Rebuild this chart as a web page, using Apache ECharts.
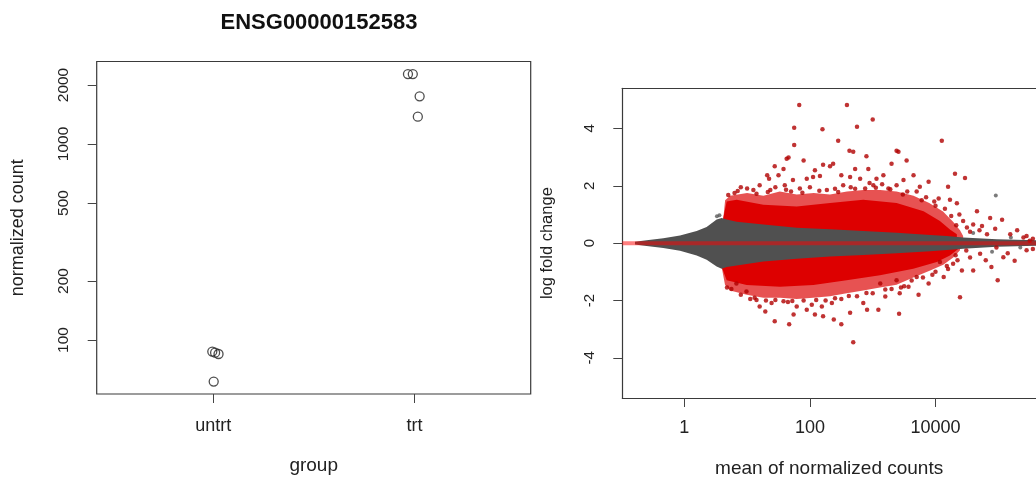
<!DOCTYPE html>
<html>
<head>
<meta charset="utf-8">
<title>ENSG00000152583</title>
<script src="https://cdn.jsdelivr.net/npm/echarts@6/dist/echarts.min.js"></script>
<style>
html, body { margin: 0; padding: 0; background: #fff; }
#main { width: 1036px; height: 483px; }
</style>
</head>
<body>
<div id="main"></div>
<script>
// left panel: plotCounts
var groupLabels = ['untrt', 'trt'];
var untrtX = [0.995, 1.009, 1.026, 1.002];
var untrtCounts = [87.2, 86.1, 84.8, 61.3];
var trtX = [1.967, 1.991, 2.025, 2.016];
var trtCounts = [2275, 2275, 1751, 1378];
var countTicks = [100, 200, 500, 1000, 2000];

// right panel: MA plot, x = log10(mean of normalized counts)
var meanTicks = [1, 100, 10000];
var lfcTicks = [-4, -2, 0, 2, 4];

var grayUpper = [[-0.785, 0.047], [-0.599, 0.104], [-0.334, 0.173], [-0.068, 0.264], [0.197, 0.424], [0.356, 0.561], [0.515, 0.824], [0.595, 0.881], [0.675, 0.824], [0.834, 0.744], [1.259, 0.653], [1.79, 0.538], [2.32, 0.481], [2.85, 0.424], [3.38, 0.367], [3.915, 0.287], [4.18, 0.253], [4.44, 0.196], [4.975, 0.139], [5.6, 0.104]];
var grayLower = [[-0.785, -0.045], [-0.599, -0.099], [-0.334, -0.17], [-0.068, -0.262], [0.197, -0.433], [0.356, -0.582], [0.515, -0.81], [0.595, -0.89], [0.675, -0.833], [0.834, -0.776], [1.259, -0.639], [1.79, -0.548], [2.32, -0.468], [2.85, -0.41], [3.38, -0.353], [3.915, -0.285], [4.18, -0.239], [4.44, -0.193], [4.975, -0.125], [5.6, -0.09]];

var redUpperFringe = [[0.595, 0], [0.622, 0.88], [0.65, 1.5], [0.73, 1.65], [1.0, 1.75], [1.26, 1.65], [1.52, 1.8], [1.79, 1.7], [2.06, 1.75], [2.32, 1.7], [2.59, 1.8], [2.85, 1.85], [3.12, 1.85], [3.38, 1.8], [3.65, 1.65], [3.9, 1.4], [4.12, 1.1], [4.28, 0.75], [4.39, 0.45], [4.44, 0.25], [4.44, 0]];
var redUpperSolid = [[0.595, 0], [0.62, 0.88], [0.675, 1.45], [0.834, 1.51], [1.259, 1.34], [1.79, 1.28], [2.32, 1.4], [2.85, 1.51], [3.38, 1.4], [3.81, 1.11], [4.07, 0.77], [4.23, 0.48], [4.34, 0.31], [4.34, 0]];
var redLowerFringe = [[0.595, 0], [0.595, -0.83], [0.648, -1.45], [0.728, -1.65], [0.993, -1.8], [1.259, -1.9], [1.524, -1.9], [1.79, -1.95], [2.055, -1.9], [2.32, -1.85], [2.585, -1.75], [2.85, -1.65], [3.116, -1.55], [3.38, -1.45], [3.646, -1.2], [3.915, -0.95], [4.124, -0.75], [4.283, -0.5], [4.39, -0.25], [4.39, 0]];
var redLowerSolid = [[0.595, 0], [0.595, -0.83], [0.675, -1.29], [0.993, -1.46], [1.524, -1.52], [2.055, -1.46], [2.585, -1.29], [3.116, -1.12], [3.646, -0.89], [4.02, -0.66], [4.23, -0.43], [4.36, -0.2], [4.36, 0]];

var sigUp = [[1.83, 4.82], [2.59, 4.82], [3.0, 4.31], [1.75, 4.02], [2.2, 3.97], [2.75, 4.06], [1.75, 3.42], [2.45, 3.57], [4.1, 3.57], [2.63, 3.22], [2.69, 3.19], [3.38, 3.22], [3.41, 3.19], [2.9, 3.03], [1.66, 2.99], [1.63, 2.94], [1.9, 2.88], [3.3, 2.77], [3.54, 2.88], [1.44, 2.68], [1.58, 2.59], [2.21, 2.73], [2.32, 2.68], [2.37, 2.77], [2.08, 2.54], [2.72, 2.59], [2.93, 2.59], [4.31, 2.42], [4.47, 2.27], [1.32, 2.37], [1.35, 2.25], [1.5, 2.37], [1.73, 2.2], [1.95, 2.25], [2.05, 2.31], [2.16, 2.34], [2.5, 2.37], [2.64, 2.31], [2.8, 2.25], [3.06, 2.25], [3.17, 2.37], [3.65, 2.37], [3.49, 2.2], [3.89, 2.14], [4.2, 1.97], [3.75, 1.97], [3.38, 2.02], [3.25, 1.91], [3.7, 1.8], [1.0, 1.91], [1.2, 2.02], [1.37, 1.85], [1.6, 2.02], [1.84, 1.91], [2.27, 1.85], [2.53, 2.02], [2.88, 1.91], [3.01, 2.02], [4.05, 1.56], [4.23, 1.51], [4.34, 1.39], [4.66, 1.11], [4.6, 0.65], [4.74, 0.6], [4.87, 0.88], [5.06, 0.82], [4.44, 0.77], [4.82, 0.31], [5.19, 0.31], [5.4, 0.2], [5.5, 0.08],
    [0.8, 1.75], [0.9, 1.95], [1.1, 1.85], [1.45, 1.95], [1.7, 1.8], [2.0, 1.95], [2.4, 1.9], [2.65, 1.95], [2.95, 2.1], [3.15, 2.05], [3.55, 1.8], [3.85, 1.6], [4.0, 1.3], [4.15, 1.2], [4.38, 1.0], [4.5, 0.55], [4.55, 0.4], [4.7, 0.45], [4.95, 0.5], [5.3, 0.45], [5.45, 0.25], [5.55, 0.15],
    [0.7, 1.68], [0.85, 1.82], [1.15, 1.72], [1.33, 1.78], [1.62, 1.86], [1.88, 1.76], [2.15, 1.83], [2.45, 1.78], [2.72, 1.9], [3.05, 1.93], [3.28, 1.88], [3.48, 1.7], [3.78, 1.5], [3.98, 1.45], [4.25, 0.95], [4.33, 0.62]];
var sigDown = [[2.69, -3.46], [1.44, -2.72], [1.67, -2.83], [2.38, -2.66], [2.5, -2.83], [3.42, -2.46], [2.91, -2.32], [1.29, -2.38], [1.74, -2.49], [1.95, -2.32], [2.08, -2.49], [2.21, -2.55], [2.64, -2.43], [3.09, -2.32], [4.39, -1.89], [4.99, -1.29], [3.73, -1.8], [3.43, -1.75], [1.15, -1.98], [1.2, -2.21], [1.39, -2.09], [1.58, -2.03], [1.79, -2.21], [2.03, -2.15], [2.19, -2.21], [2.35, -2.09], [2.85, -2.09], [3.2, -1.86], [3.57, -1.52], [3.89, -1.41], [4.13, -1.18], [4.6, -0.95], [4.42, -0.95], [4.89, -0.83], [5.26, -0.61], [5.08, -0.49], [4.71, -0.37], [4.28, -0.72], [4.07, -0.66], [3.7, -1.18], [3.38, -1.29], [3.12, -1.41], [0.99, -1.69], [0.83, -1.41], [4.49, -0.26], [4.97, -0.15],
    [0.75, -1.6], [0.9, -1.8], [1.05, -1.95], [1.3, -2.0], [1.65, -2.05], [1.9, -2.0], [2.25, -2.0], [2.5, -1.95], [2.75, -1.85], [3.0, -1.75], [3.3, -1.6], [3.5, -1.5], [3.8, -1.2], [4.0, -1.0], [4.2, -0.9], [4.35, -0.6], [4.55, -0.5], [4.8, -0.6], [5.15, -0.35], [5.45, -0.25], [5.55, -0.2],
    [0.68, -1.55], [1.12, -1.9], [1.45, -1.98], [1.72, -2.02], [2.1, -1.98], [2.4, -1.92], [2.62, -1.84], [2.9, -1.74], [3.2, -1.62], [3.45, -1.55], [3.62, -1.3], [3.95, -1.1], [4.18, -0.8], [4.32, -0.42]];
var nonSig = [[4.96, 1.66], [0.52, 0.94], [0.56, 0.97], [4.6, 0.35], [4.9, -0.3], [5.2, 0.2], [5.35, -0.15]];

var font = '"Liberation Sans", Arial, Helvetica, sans-serif';
var textColor = '#222';
var frameColor = '#3a3a3a';
var maMin = -0.987;
var maMax = 5.6;

function pairs(xs, ys) {
    var out = [];
    for (var i = 0; i < xs.length; i++) {
        out.push([xs[i], Math.log10(ys[i])]);
    }
    return out;
}

function polygonSeries(points, fill) {
    return {
        type: 'custom',
        xAxisIndex: 1,
        yAxisIndex: 1,
        clip: true,
        silent: true,
        data: [[0, 0]],
        renderItem: function(params, api) {
            var pts = [];
            for (var i = 0; i < points.length; i++) {
                pts.push(api.coord(points[i]));
            }
            return {
                type: 'polygon',
                shape: { points: pts },
                style: { fill: fill }
            };
        }
    };
}

var grayBand = grayUpper.concat(grayLower.slice().reverse());

var chart = echarts.init(document.getElementById('main'));

var tickStyle = { show: true, inside: false, length: 9, lineStyle: { color: '#444', width: 1 } };
var frameLine = { show: true, onZero: false, lineStyle: { color: frameColor, width: 1.2 } };

var option = {
    backgroundColor: '#fff',
    animation: false,
    title: {
        text: 'ENSG00000152583',
        left: 314,
        top: 7,
        textAlign: 'center',
        textStyle: { fontFamily: font, fontSize: 22, fontWeight: 'bold', color: '#111' }
    },
    grid: [
        { left: 96.7, top: 61.5, width: 434, height: 332.5, show: true, borderColor: frameColor, borderWidth: 1.2, backgroundColor: 'transparent' },
        { left: 622.3, top: 88.3, width: 413.7, height: 314.5, show: false }
    ],
    xAxis: [
        {
            gridIndex: 0,
            type: 'value',
            min: 0.4208,
            max: 2.5767,
            name: 'group',
            nameLocation: 'middle',
            nameGap: 62,
            nameTextStyle: { fontFamily: font, fontSize: 19, color: textColor },
            axisLine: { show: false, onZero: false },
            splitLine: { show: false },
            axisTick: Object.assign({ customValues: [1, 2] }, tickStyle),
            axisLabel: {
                customValues: [1, 2],
                margin: 23,
                fontFamily: font,
                fontSize: 18,
                color: textColor,
                formatter: function(v) { return groupLabels[Math.round(v) - 1]; }
            }
        },
        {
            gridIndex: 1,
            type: 'value',
            min: maMin,
            max: maMax,
            name: 'mean of normalized counts',
            nameLocation: 'middle',
            nameGap: 61,
            nameTextStyle: { fontFamily: font, fontSize: 19, color: textColor },
            axisLine: frameLine,
            splitLine: { show: false },
            axisTick: Object.assign({ customValues: meanTicks.map(Math.log10) }, tickStyle),
            axisLabel: {
                customValues: meanTicks.map(Math.log10),
                margin: 21,
                fontFamily: font,
                fontSize: 18,
                color: textColor,
                formatter: function(v) { return String(Math.round(Math.pow(10, v))); }
            }
        },
        {
            // top edge of the MA frame
            gridIndex: 1,
            type: 'value',
            position: 'top',
            min: maMin,
            max: maMax,
            axisLine: frameLine,
            axisTick: { show: false },
            axisLabel: { show: false },
            splitLine: { show: false }
        }
    ],
    yAxis: [
        {
            gridIndex: 0,
            type: 'value',
            min: Math.log10(53),
            max: Math.log10(2636),
            name: 'normalized count',
            nameLocation: 'middle',
            nameGap: 70,
            nameTextStyle: { fontFamily: font, fontSize: 18, color: textColor },
            axisLine: { show: false, onZero: false },
            splitLine: { show: false },
            axisTick: Object.assign({ customValues: countTicks.map(Math.log10) }, tickStyle),
            axisLabel: {
                customValues: countTicks.map(Math.log10),
                rotate: 90,
                margin: 25,
                fontFamily: font,
                fontSize: 15.5,
                color: textColor,
                formatter: function(v) { return String(Math.round(Math.pow(10, v))); }
            }
        },
        {
            gridIndex: 1,
            type: 'value',
            min: -5.4,
            max: 5.4,
            name: 'log fold change',
            nameLocation: 'middle',
            nameGap: 66,
            nameTextStyle: { fontFamily: font, fontSize: 16.5, color: textColor },
            axisLine: frameLine,
            splitLine: { show: false },
            axisTick: Object.assign({ customValues: lfcTicks }, tickStyle),
            axisLabel: {
                customValues: lfcTicks,
                rotate: 90,
                margin: 25,
                fontFamily: font,
                fontSize: 15,
                color: textColor
            }
        }
    ],
    series: [
        {
            name: 'untrt',
            type: 'scatter',
            xAxisIndex: 0,
            yAxisIndex: 0,
            symbol: 'circle',
            symbolSize: 9,
            itemStyle: { color: 'rgba(0,0,0,0)', borderColor: '#222', borderWidth: 1.3 },
            data: pairs(untrtX, untrtCounts)
        },
        {
            name: 'trt',
            type: 'scatter',
            xAxisIndex: 0,
            yAxisIndex: 0,
            symbol: 'circle',
            symbolSize: 9,
            itemStyle: { color: 'rgba(0,0,0,0)', borderColor: '#222', borderWidth: 1.3 },
            data: pairs(trtX, trtCounts)
        },
        polygonSeries(redUpperFringe, 'rgba(220,0,0,0.68)'),
        polygonSeries(redLowerFringe, 'rgba(220,0,0,0.68)'),
        polygonSeries(redUpperSolid, '#dd0000'),
        polygonSeries(redLowerSolid, '#dd0000'),
        polygonSeries(grayBand, '#505050'),
        {
            type: 'scatter',
            xAxisIndex: 1,
            yAxisIndex: 1,
            symbolSize: 4,
            itemStyle: { color: '#5a5a5a' },
            data: nonSig
        },
        {
            type: 'scatter',
            xAxisIndex: 1,
            yAxisIndex: 1,
            symbolSize: 4.5,
            itemStyle: { color: '#b00000' },
            data: sigUp.concat(sigDown)
        },
        {
            type: 'line',
            xAxisIndex: 1,
            yAxisIndex: 1,
            symbol: 'none',
            silent: true,
            lineStyle: { color: 'rgba(255,0,0,0.5)', width: 4 },
            data: [[maMin, 0], [maMax, 0]]
        }
    ]
};

chart.setOption(option);
</script>
</body>
</html>
